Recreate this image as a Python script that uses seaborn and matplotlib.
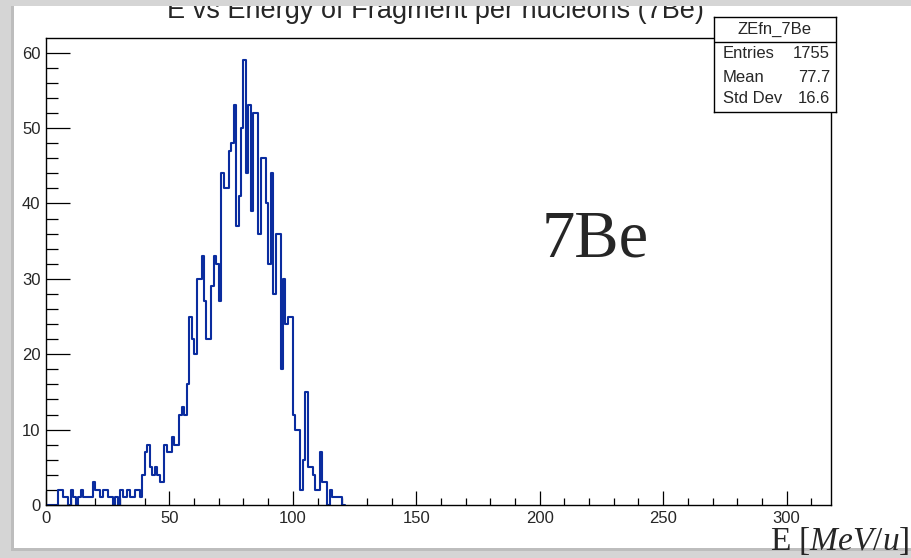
import numpy as np
import pandas as pd
import seaborn as sns
import matplotlib.pyplot as plt
from matplotlib.patches import Rectangle
from matplotlib.ticker import MultipleLocator

# counts per 1 MeV/u bin (bins start at 0)
counts_low = [0, 0, 0, 0, 0, 2, 2, 1, 1, 0, 2, 1, 0, 1, 2, 1, 1, 1, 1, 3,
              2, 2, 1, 2, 2, 1, 1, 0, 1, 0, 2, 1, 1, 2, 1, 1, 2, 2]
counts_rise = [1, 4, 7, 8, 5, 4, 5, 4, 3, 3, 8, 7, 7, 9, 8, 8, 12, 13, 12, 16,
               25, 22, 20]
counts_peak = [30, 30, 33, 27, 22, 22, 29, 33, 32, 27, 44, 42, 42, 47, 48, 53,
               37, 41, 50, 59, 44, 53, 39, 52, 52, 36, 46, 46, 40, 32, 44, 28,
               36, 36, 18, 30, 24, 25, 25]
counts_tail = [12, 10, 10, 2, 6, 15, 5, 5, 4, 2, 2, 7, 3, 3, 0, 2, 1, 1, 1, 1, 0]
counts = counts_low + counts_rise + counts_peak + counts_tail

hist_name = 'ZEfn_7Be'
stats_names = ['Entries', 'Mean', 'Std Dev']
stats_values = ['1755', '77.7', '16.6']
title = 'E vs Energy of Fragment per nucleons (7Be)'
label = '7Be'

df = pd.DataFrame({'energy': np.arange(len(counts)) + 0.5, 'counts': counts})

sns.set_style('ticks')
plt.rcParams['font.family'] = ['Liberation Sans', 'DejaVu Sans']
plt.rcParams['mathtext.fontset'] = 'custom'
plt.rcParams['mathtext.rm'] = 'Liberation Serif'
plt.rcParams['mathtext.it'] = 'Liberation Serif:italic'

W, H = 911, 558
bg = '#d5d5d5'
fig = plt.figure(figsize=(W / 100, H / 100), dpi=100, facecolor=bg)

# white canvas of the screenshot with a soft shadow
fig.patches.append(Rectangle((11 / W, 7 / H), 1, 1, transform=fig.transFigure,
                             facecolor='#bdbdbd', edgecolor='none', zorder=-2))
fig.patches.append(Rectangle((14 / W, 10 / H), 1, 1, transform=fig.transFigure,
                             facecolor='white', edgecolor='none', zorder=-1))
# grey strip at the very top that hides the upper half of the title
fig.patches.append(Rectangle((0, 1 - 6 / H), 1, 6 / H, transform=fig.transFigure,
                             facecolor=bg, edgecolor='none', zorder=10))

ax = fig.add_axes([46 / W, 1 - 505 / H, (831 - 46) / W, (505 - 38) / H])
sns.histplot(data=df, x='energy', weights='counts', bins=len(counts),
             binrange=(0, len(counts)), element='step', fill=False,
             color='#0a2c9f', linewidth=1.5, ax=ax)

ax.set_xlim(0, 318)
ax.set_ylim(0, 61.95)
ax.set_xlabel('')
ax.set_ylabel('')
ax.xaxis.set_major_locator(MultipleLocator(50))
ax.xaxis.set_minor_locator(MultipleLocator(10))
ax.yaxis.set_major_locator(MultipleLocator(10))
ax.yaxis.set_minor_locator(MultipleLocator(2))
ax.tick_params(axis='both', which='both', direction='in', color='black',
               width=0.9, labelsize=12, top=False, right=False)
ax.tick_params(axis='y', which='major', length=17, pad=4)
ax.tick_params(axis='y', which='minor', length=8.5)
ax.tick_params(axis='x', which='major', length=10, pad=4)
ax.tick_params(axis='x', which='minor', length=5)
for s in ax.spines.values():
    s.set_linewidth(1.0)
    s.set_color('black')

# title, half hidden by the top strip as in the screenshot
fig.text(435 / W, 1 - 18 / H, title, ha='center', va='baseline', fontsize=19.5)

# big label inside the plot
fig.text(595 / W, 1 - 240 / H, label, ha='center', va='center', fontsize=48,
         family='Liberation Serif')

# x axis title
fig.text(909 / W, 1 - 550 / H, r'E [$MeV/u$]', ha='right', va='baseline',
         fontsize=24, family='Liberation Serif')

# stats box
box = fig.add_axes([714 / W, 1 - 112 / H, (836 - 714) / W, (112 - 17) / H])
box.set_zorder(5)
box.set_facecolor('white')
box.set_xticks([])
box.set_yticks([])
box.set_xlim(0, 1)
box.set_ylim(0, 1)
for s in box.spines.values():
    s.set_linewidth(1.0)
    s.set_color('black')
box.axhline(70 / 95, color='black', linewidth=1.0)
box.text(0.5, 0.868, hist_name, ha='center', va='center', fontsize=12)
for name, val, yy in zip(stats_names, stats_values, [0.611, 0.368, 0.137]):
    box.text(0.074, yy, name, ha='left', va='center', fontsize=12)
    box.text(0.95, yy, val, ha='right', va='center', fontsize=12)

fig.savefig('out.png', dpi=100, facecolor=fig.get_facecolor())
